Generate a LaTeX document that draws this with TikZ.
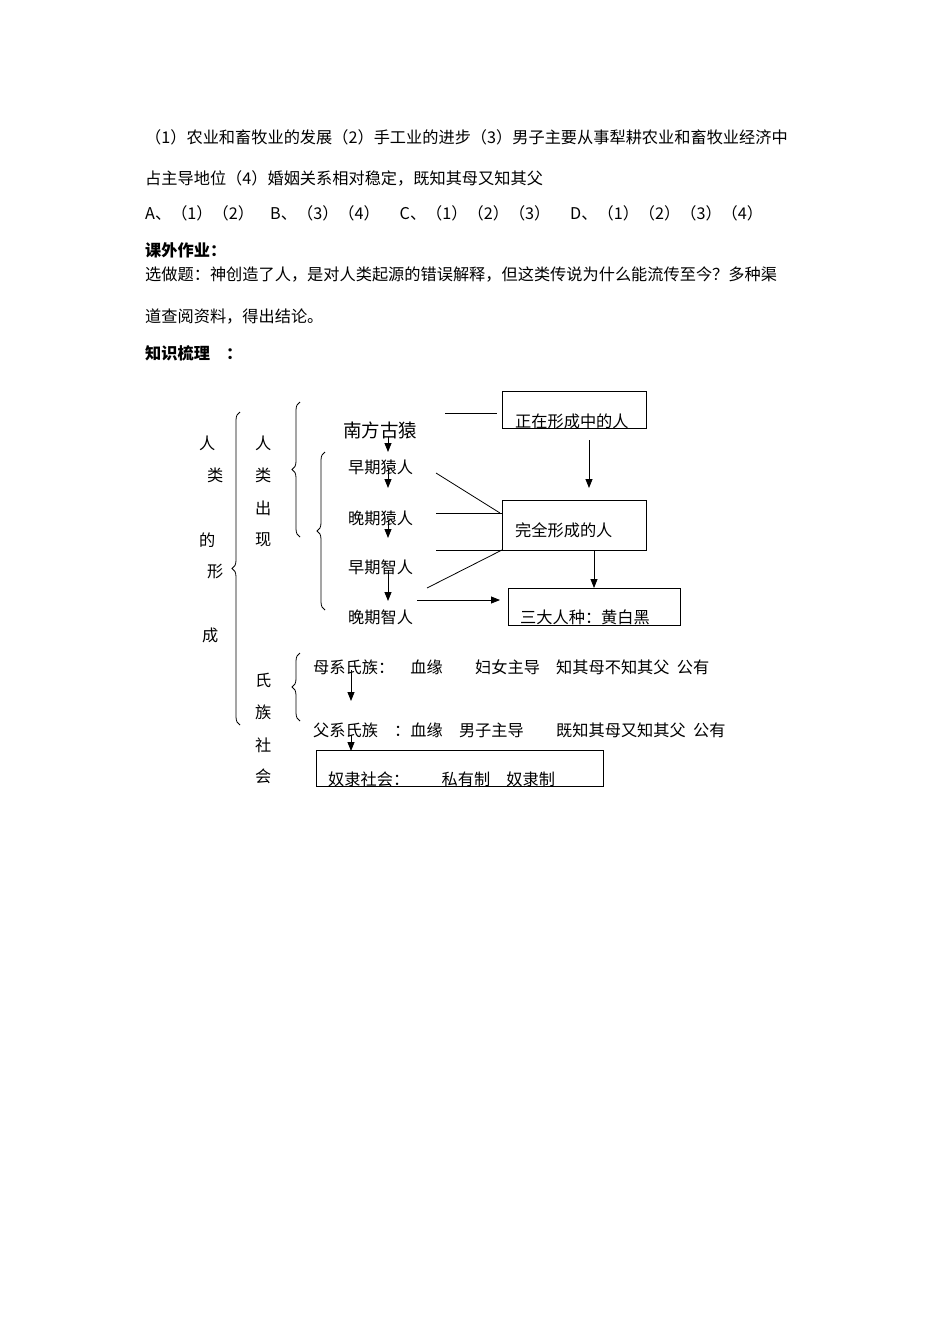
\documentclass[tikz,border=0pt]{standalone}
\usepackage{fontspec}
\setmainfont{Noto Sans CJK SC}
\usetikzlibrary{decorations.pathreplacing,arrows.meta}
\begin{document}
\begin{tikzpicture}[x=1pt,y=-1pt,
  txt/.style={anchor=west,inner sep=0pt,font=\fontsize{16.2}{18}\selectfont},
  bx/.style={draw,line width=0.8pt},
  ln/.style={line width=0.8pt},
  ar/.style={line width=0.8pt,-{Triangle[length=9pt,width=7pt]}},
  br/.style={line width=0.8pt,decorate,decoration={brace,amplitude=8pt,mirror}}]
\useasboundingbox (0,0) rectangle (950,1344);
\node[txt] (l1) at (145,137) {（1）农业和畜牧业的发展（2）手工业的进步（3）男子主要从事犁耕农业和畜牧业经济中};
\node[txt] (l2) at (145,178) {占主导地位（4）婚姻关系相对稳定，既知其母又知其父};
\node[txt] (l3) at (145,213) {A、（1）（2）\quad B、（3）（4）\quad\ C、（1）（2）（3）\quad\ D、（1）（2）（3）（4）};
\node[txt,font=\fontsize{16.2}{18}\selectfont\bfseries] (h1) at (145,250) {课外作业：};
\node[txt] (l4) at (145,275) {选做题：神创造了人，是对人类起源的错误解释，但这类传说为什么能流传至今？多种渠};
\node[txt] (l5) at (145,317) {道查阅资料，得出结论。};
\node[txt,font=\fontsize{16.2}{18}\selectfont\bfseries] (h2) at (145,353) {知识梳理\quad ：};
% left column
\foreach \t/\x/\y in {人/207/443,类/215/475,的/207/540,形/215/572,成/210/635}
  \node[txt] at (\x-8,\y) {\t};
\foreach \t/\y in {人/443,类/475,出/508,现/540,氏/680,族/712,社/745,会/776}
  \node[txt] at (255,\y) {\t};
\draw[br] (240,412) -- (240,725);
\draw[br] (300,402) -- (300,537);
\draw[br] (325,452) -- (325,610);
\draw[br] (300,653) -- (300,721);
% stages
\node[txt,font=\fontsize{18.5}{20}\selectfont] (nf) at (343,430) {南方古猿};
\node[txt] (zy) at (348,467) {早期猿人};
\node[txt] (wy) at (348,518) {晚期猿人};
\node[txt] (zz) at (348,567) {早期智人};
\node[txt] (wz) at (348,617) {晚期智人};
\coordinate (a1) at (388,437); \coordinate (a1e) at (388,452);
\coordinate (a2) at (388,468); \coordinate (a2e) at (388,488);
\coordinate (a3) at (388,520); \coordinate (a3e) at (388,538);
\coordinate (a4) at (388,570); \coordinate (a4e) at (388,601);
\draw[ar] (a1) -- (a1e); \draw[ar] (a2) -- (a2e);
\draw[ar] (a3) -- (a3e); \draw[ar] (a4) -- (a4e);
% boxes
\draw[bx] (502,391) rectangle (646,428);
\node[txt] (b1) at (515,421) {正在形成中的人};
\draw[bx] (502,500) rectangle (646,550);
\node[txt] (b2) at (515,530) {完全形成的人};
\draw[bx] (508,588) rectangle (680,625);
\node[txt] (b3) at (520,617) {三大人种：黄白黑};
\coordinate (h0) at (445,413); \coordinate (h0e) at (497,413);
\draw[ln] (h0) -- (h0e);
\draw[ar] (589,440) -- (589,488);
\draw[ln] (436,473) -- (500,513);
\draw[ln] (436,513) -- (502,513);
\draw[ln] (436,550) -- (502,550);
\draw[ln] (427,588) -- (502,550);
\draw[ar] (594,550) -- (594,588);
\draw[ar] (417,600) -- (500,600);
% clan society
\node[txt] (mx) at (313,667) {母系氏族：\quad 血缘\qquad 妇女主导\quad 知其母不知其父\ \ 公有};
\node[txt] (fx) at (313,730) {父系氏族\quad ：血缘\quad 男子主导\qquad 既知其母又知其父\ \ 公有};
\draw[ar] (351,670) -- (351,701);
\draw[ar] (351,735) -- (351,751);
\draw[bx] (316,750) rectangle (603,786);
\node[txt] (ns) at (328,779) {奴隶社会：\qquad 私有制\quad 奴隶制};
\end{tikzpicture}
\end{document}
